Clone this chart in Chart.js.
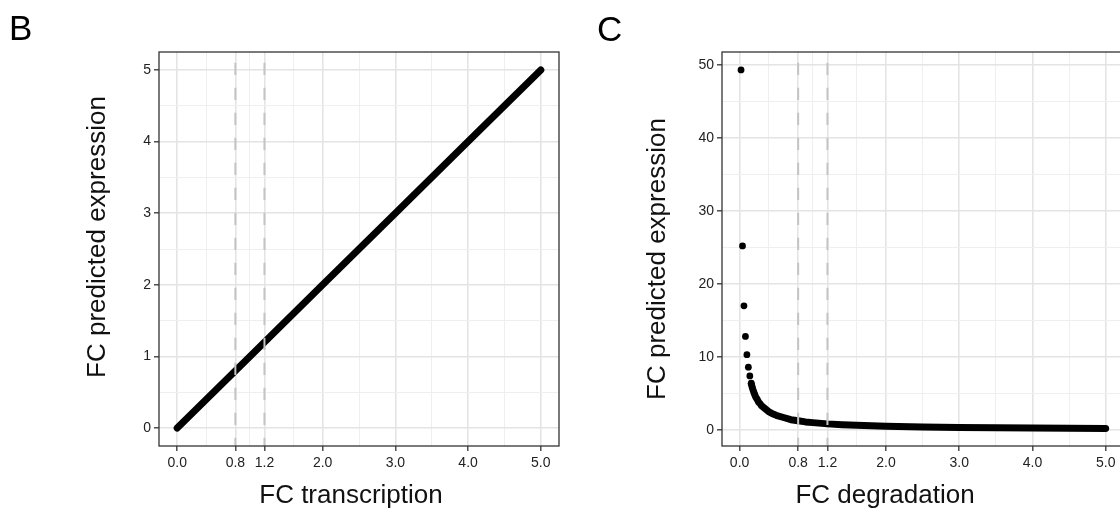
<!DOCTYPE html>
<html>
<head>
<meta charset="utf-8">
<script src="https://cdn.jsdelivr.net/npm/chart.js@4.4.0/dist/chart.umd.min.js"></script>
<style>
    html, body { margin: 0; padding: 0; background: #fff; width: 1120px; height: 513px; overflow: hidden; }
    .panel { position: absolute; top: 0; height: 513px; }
    #wrapB { left: 0; width: 560px; }
    #wrapC { left: 560px; width: 600px; }
</style>
</head>
<body>
<div class="panel" id="wrapB"><canvas id="chartB" width="560" height="513"></canvas></div>
<div class="panel" id="wrapC"><canvas id="chartC" width="600" height="513"></canvas></div>
<script>
// panel B - transcription
const fcTranscription = [0, 1, 2, 3, 4, 5];
const exprTranscription = [0, 1, 2, 3, 4, 5];

// panel C - degradation, the separate dots at the top
const fcDegradationDots = [0.02, 0.04, 0.06, 0.08, 0.10, 0.12, 0.14, 0.16];
const exprDegradationDots = [49.3, 25.2, 17.0, 12.8, 10.3, 8.6, 7.4, 6.4];
// and the dense tail
const fcDegradationTail = [0.16, 0.18, 0.20, 0.22, 0.24, 0.26, 0.28, 0.30, 0.35, 0.40, 0.45, 0.50, 0.60, 0.70, 0.80, 0.90, 1.0, 1.2, 1.4, 1.6, 1.8, 2.0, 2.5, 3.0, 3.5, 4.0, 4.5, 5.0];
const exprDegradationTail = [6.3, 5.6, 5.0, 4.5, 4.2, 3.8, 3.6, 3.3, 2.9, 2.5, 2.2, 2.0, 1.7, 1.4, 1.25, 1.1, 1.0, 0.83, 0.71, 0.63, 0.56, 0.5, 0.4, 0.33, 0.29, 0.25, 0.22, 0.2];

// axes
const xBreaks = [0, 0.8, 1.2, 2, 3, 4, 5];
const xMinor = [0.4, 1.0, 1.6, 2.5, 3.5, 4.5];
const yBreaksB = [0, 1, 2, 3, 4, 5];
const yMinorB = [0.5, 1.5, 2.5, 3.5, 4.5];
const yBreaksC = [0, 10, 20, 30, 40, 50];
const yMinorC = [5, 15, 25, 35, 45];
const cutoffs = [0.8, 1.2];

const FONT = "'Liberation Sans', Arial, Helvetica, sans-serif";

function toPoints(xs, ys) {
    return xs.map((x, i) => ({ x: x, y: ys[i] }));
}

function makeAxis(min, max, breaks, minor, fmt, fixSize, isX) {
    return {
        type: 'linear',
        min: min,
        max: max,
        afterBuildTicks: (scale) => {
            scale.ticks = breaks.concat(minor).sort((a, b) => a - b).map(v => ({ value: v }));
        },
        afterFit: (scale) => {
            if (isX) scale.height = fixSize; else scale.width = fixSize;
        },
        ticks: {
            autoSkip: false,
            maxRotation: 0,
            padding: isX ? 4 : 3,
            color: '#222',
            font: { family: FONT, size: 14 },
            callback: (v) => breaks.includes(v) ? fmt(v) : ''
        },
        grid: {
            color: (c) => breaks.includes(c.tick.value) ? '#E4E4E4' : '#EFEFEF',
            lineWidth: (c) => breaks.includes(c.tick.value) ? 1.6 : 1,
            tickColor: (c) => breaks.includes(c.tick.value) ? '#333' : 'rgba(0,0,0,0)',
            tickLength: 5,
            tickWidth: 1.3,
            drawTicks: true
        },
        border: { display: false }
    };
}

// dashed cutoff lines, panel frame and all the text
const panelDecor = {
    id: 'panelDecor',
    afterDatasetsDraw(chart, args, opts) {
        const ctx = chart.ctx;
        const area = chart.chartArea;
        const xs = chart.scales.x;
        ctx.save();
        ctx.strokeStyle = '#C4C4C4';
        ctx.lineWidth = 2;
        ctx.setLineDash([12.3, 12.7]);
        ctx.lineDashOffset = 14.3;
        for (const c of cutoffs) {
            const px = xs.getPixelForValue(c);
            ctx.beginPath();
            ctx.moveTo(px, area.top);
            ctx.lineTo(px, area.bottom);
            ctx.stroke();
        }
        ctx.setLineDash([]);
        ctx.strokeStyle = '#333';
        ctx.lineWidth = 1.3;
        ctx.strokeRect(area.left, area.top, area.right - area.left, area.bottom - area.top);
        ctx.restore();
    },
    afterDraw(chart, args, opts) {
        const ctx = chart.ctx;
        ctx.save();
        ctx.fillStyle = '#000';
        ctx.textBaseline = 'alphabetic';
        ctx.font = '35px ' + FONT;
        ctx.textAlign = 'left';
        ctx.fillText(opts.letter, opts.letterX, opts.letterY);
        ctx.font = '26px ' + FONT;
        ctx.fillStyle = '#111';
        ctx.textAlign = 'center';
        ctx.fillText(opts.xTitle, opts.xTitleX, opts.xTitleY);
        ctx.translate(opts.yTitleX, opts.yTitleY);
        ctx.rotate(-Math.PI / 2);
        ctx.fillText(opts.yTitle, 0, 0);
        ctx.restore();
    }
};

const chartB = new Chart(document.getElementById('chartB'), {
    type: 'scatter',
    data: {
        datasets: [{
            data: toPoints(fcTranscription, exprTranscription),
            showLine: true,
            borderColor: '#000',
            backgroundColor: '#000',
            borderWidth: 7,
            borderCapStyle: 'round',
            pointRadius: 0
        }]
    },
    options: {
        responsive: false,
        animation: false,
        devicePixelRatio: 1,
        layout: { padding: { left: 0, right: 1, top: 52, bottom: 0 } },
        plugins: {
            legend: { display: false },
            tooltip: { enabled: false },
            panelDecor: {
                letter: 'B', letterX: 9, letterY: 40,
                xTitle: 'FC transcription', xTitleX: 351, xTitleY: 503,
                yTitle: 'FC predicted expression', yTitleX: 105, yTitleY: 237
            }
        },
        scales: {
            x: makeAxis(-0.25, 5.25, xBreaks, xMinor, v => v.toFixed(1), 67, true),
            y: makeAxis(-0.25, 5.25, yBreaksB, yMinorB, v => String(v), 159, false)
        }
    },
    plugins: [panelDecor]
});

const chartC = new Chart(document.getElementById('chartC'), {
    type: 'scatter',
    data: {
        datasets: [{
            data: toPoints(fcDegradationDots, exprDegradationDots),
            backgroundColor: '#000',
            borderColor: '#000',
            pointRadius: 3.4,
            pointBorderWidth: 0
        }, {
            data: toPoints(fcDegradationTail, exprDegradationTail),
            showLine: true,
            borderColor: '#000',
            borderWidth: 7,
            borderCapStyle: 'round',
            borderJoinStyle: 'round',
            pointRadius: 0
        }]
    },
    options: {
        responsive: false,
        animation: false,
        devicePixelRatio: 1,
        layout: { padding: { left: 0, right: 36, top: 52, bottom: 0 } },
        plugins: {
            legend: { display: false },
            tooltip: { enabled: false },
            panelDecor: {
                letter: 'C', letterX: 37, letterY: 41,
                xTitle: 'FC degradation', xTitleX: 325, xTitleY: 503,
                yTitle: 'FC predicted expression', yTitleX: 105, yTitleY: 259
            }
        },
        scales: {
            x: makeAxis(-0.24, 5.25, xBreaks, xMinor, v => v.toFixed(1), 67, true),
            y: makeAxis(-2.2, 51.75, yBreaksC, yMinorC, v => String(v), 162, false)
        }
    },
    plugins: [panelDecor]
});
</script>
</body>
</html>
